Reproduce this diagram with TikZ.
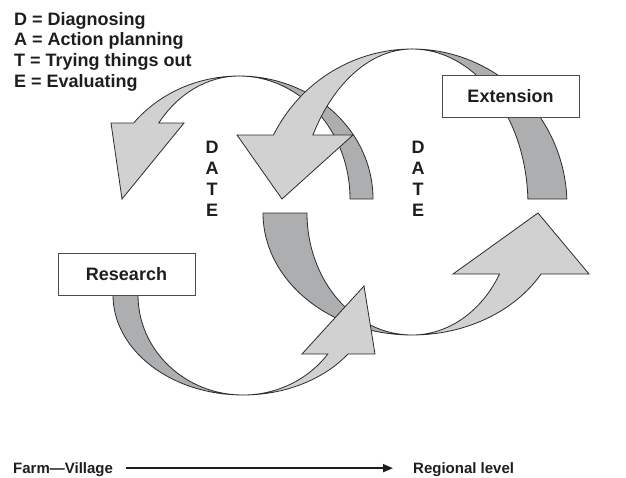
\documentclass[tikz,border=0pt]{standalone}
\usepackage{fontspec}
\setmainfont{Liberation Sans}
\usetikzlibrary{arrows.meta}
\definecolor{lightband}{HTML}{D1D1D1}
\definecolor{darkband}{HTML}{ADAEB0}
\definecolor{edgecol}{HTML}{2B2B2B}
\definecolor{textcol}{HTML}{1E1E1E}
\begin{document}
\begin{tikzpicture}[x=1pt,y=-1pt,
  lightpart/.style={fill=lightband, draw=edgecol, line width=0.8pt},
  darkpart/.style={fill=darkband, draw=edgecol, line width=0.8pt},
  labelbox/.style={draw=edgecol!85, fill=white, line width=0.9pt, minimum width=137pt, minimum height=42pt, inner sep=0pt, text=textcol, font=\fontsize{18}{21}\selectfont\bfseries},
  legend/.style={anchor=base west, inner sep=0pt, text=textcol, font=\fontsize{18}{21}\selectfont\bfseries},
  datelbl/.style={anchor=base, inner sep=0pt, text=textcol, font=\fontsize{18}{21}\selectfont\bfseries},
  axislbl/.style={anchor=base west, inner sep=0pt, text=textcol, font=\fontsize{15}{18}\selectfont\bfseries},
  axisarrow/.style={draw=textcol, line width=1.8pt, -{Triangle[length=10pt,width=8pt]}}
]
\useasboundingbox (0,0) rectangle (626,477);

% left cycle, top piece
\path[darkpart] (239,76) arc[start angle=-90, end angle=0, x radius=134, y radius=123]
  -- (350,199) arc[start angle=0, end angle=-90, x radius=111, y radius=123] -- cycle;
\path[lightpart] (239,76) arc[start angle=-90, end angle=-141.84, x radius=134, y radius=123]
  -- (111,123) -- (122,199) -- (184,123) -- (158.8,123)
  arc[start angle=-141.84, end angle=-90, x radius=102, y radius=123] -- cycle;

% right cycle, bottom piece
\path[darkpart] (412,335) arc[start angle=90, end angle=180, x radius=149, y radius=122]
  -- (307,213) arc[start angle=180, end angle=90, x radius=105, y radius=122] -- cycle;
\path[lightpart] (412,335) arc[start angle=90, end angle=30, x radius=149, y radius=122]
  -- (589,274) -- (538,213) -- (453,274) -- (499.5,274)
  arc[start angle=30, end angle=90, x radius=101, y radius=122] -- cycle;

% left cycle, bottom piece
\path[darkpart] (243,395) arc[start angle=90, end angle=180, x radius=130, y radius=100]
  -- (138,295) arc[start angle=180, end angle=90, x radius=105, y radius=100] -- cycle;
\path[lightpart] (243,395) arc[start angle=90, end angle=36.16, x radius=130, y radius=100]
  -- (375,354) -- (364,286) -- (302,354) -- (327.8,354)
  arc[start angle=36.16, end angle=90, x radius=105, y radius=100] -- cycle;

% right cycle, top piece
\path[darkpart] (412,49) arc[start angle=-90, end angle=-2.2, x radius=155, y radius=156]
  -- (527.9,199) arc[start angle=-2.2, end angle=-90, x radius=116, y radius=156] -- cycle;
\path[lightpart] (412,49) arc[start angle=-90, end angle=-153.34, x radius=155, y radius=156]
  -- (237,135) -- (282,199) -- (353,135) -- (312.9,135)
  arc[start angle=-148.69, end angle=-90, x radius=116, y radius=179] -- cycle;

% boxes
\node[labelbox] (research) at (126.5,274) {Research};
\node[labelbox] (extension) at (510.5,96.5) {Extension};

% DATE columns
\foreach \l [count=\i] in {D,A,T,E} {
  \node[datelbl] (dateL\i) at (212,131.7+21.3*\i) {\l};
  \node[datelbl] (dateR\i) at (418,131.7+21.3*\i) {\l};
}

% legend
\node[legend] (legD) at (14,25) {D = Diagnosing};
\node[legend] (legA) at (14,45.7) {A = Action planning};
\node[legend] (legT) at (14,66.3) {T = Trying things out};
\node[legend] (legE) at (14,87) {E = Evaluating};

% axis
\node[axislbl] (farm) at (13,473) {Farm---Village};
\node[axislbl] (regional) at (413,473) {Regional level};
\draw[axisarrow] ([xshift=13pt,yshift=1pt]farm.east) -- ([xshift=-20pt,yshift=1pt]regional.west);
\end{tikzpicture}
\end{document}
